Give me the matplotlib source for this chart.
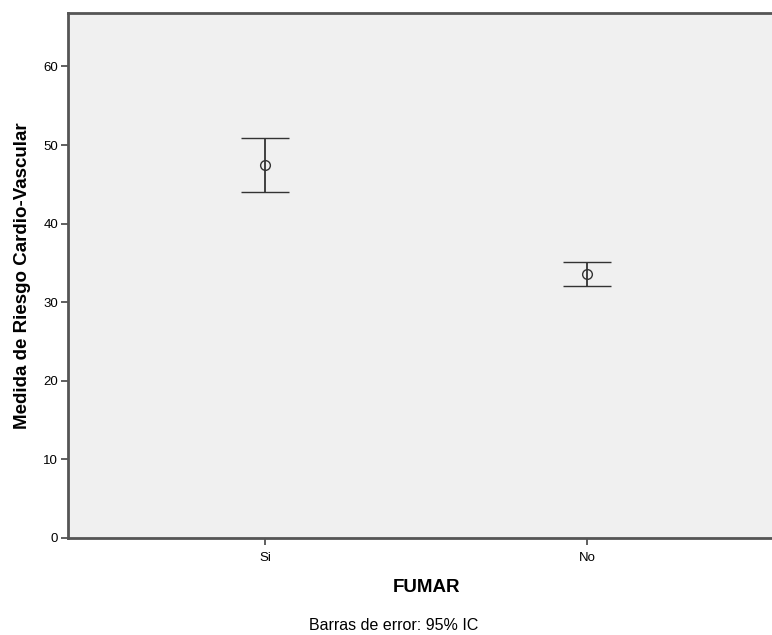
import matplotlib
matplotlib.use("Agg")
import matplotlib.pyplot as plt
import numpy as np

plt.rcParams['font.family'] = ['Liberation Sans', 'DejaVu Sans']

# datos (media y IC 95%)
grupos = ["Si", "No"]
media = [47.4, 33.6]
ic_inf = [44.0, 32.1]
ic_sup = [50.9, 35.1]

pos = np.arange(len(grupos))
media = np.array(media)
err = [media - np.array(ic_inf), np.array(ic_sup) - media]

fig = plt.figure(figsize=(7.72, 6.35), dpi=100)
ax = fig.add_axes([68 / 772, 1 - 538 / 635, (784 - 68) / 772, (538 - 13) / 635])
ax.set_facecolor('#f0f0f0')

ax.errorbar(pos, media, yerr=err, fmt='o', mfc='none', mec='#333333', ms=7, mew=1,
            ecolor='#333333', elinewidth=1.3, capsize=17, capthick=1.6)

ax.set_xlim(-0.612, 1.612)
ax.set_ylim(0, 66.8)
ax.set_yticks([0, 10, 20, 30, 40, 50, 60])
ax.set_xticks(pos)
ax.set_xticklabels(grupos)
ax.tick_params(axis='both', direction='out', length=5, width=1.2, color='#444444',
               labelsize=9.5, pad=2)
ax.tick_params(axis='x', pad=5)

for s in ['left', 'bottom', 'top']:
    ax.spines[s].set_color('#555555')
    ax.spines[s].set_linewidth(2)
ax.spines['right'].set_visible(False)

ax.set_ylabel('Medida de Riesgo Cardio-Vascular', fontsize=13.5, fontweight='bold', labelpad=9)
ax.set_xlabel('FUMAR', fontsize=13.5, fontweight='bold', labelpad=11)

fig.text(394 / 772, 1 - 625 / 635, 'Barras de error: 95% IC', ha='center', va='center', fontsize=11.5)

fig.savefig('out.png', dpi=100)
